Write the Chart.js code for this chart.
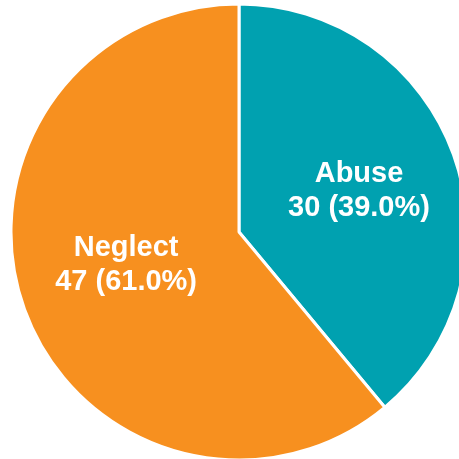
<!DOCTYPE html>
<html>
<head>
<meta charset="utf-8">
<script src="https://cdn.jsdelivr.net/npm/chart.js@4"></script>
<style>
html,body{margin:0;padding:0;background:#fff;overflow:hidden;width:459px;height:459px;}
canvas{display:block;}
</style>
</head>
<body>
<canvas id="c" width="478" height="464"></canvas>
<script>
const categories = ["Abuse", "Neglect"];
const counts = [30, 47];
const colors = ["#00A1B0", "#F7901F"];

const total = counts.reduce((a, b) => a + b, 0);

const labelPlugin = {
  id: 'sliceLabels',
  afterDatasetsDraw(chart, args, opts) {
    const ctx = chart.ctx;
    const meta = chart.getDatasetMeta(0);
    ctx.save();
    ctx.fillStyle = '#ffffff';
    ctx.font = 'bold 29px "Liberation Sans", Arial, sans-serif';
    ctx.textAlign = 'center';
    ctx.textBaseline = 'alphabetic';
    meta.data.forEach((arc, i) => {
      const p = arc.tooltipPosition();
      const off = opts.offsets[i] || [0, 0];
      const x = p.x + off[0];
      const y = p.y + off[1];
      const v = counts[i];
      const pct = (v / total * 100).toFixed(1);
      ctx.fillText(categories[i], x, y - 6.7);
      ctx.fillText(v + ' (' + pct + '%)', x, y + 26.7);
    });
    ctx.restore();
  }
};

new Chart(document.getElementById('c'), {
  type: 'pie',
  data: {
    labels: categories,
    datasets: [{
      data: counts,
      backgroundColor: colors,
      borderColor: '#ffffff',
      borderWidth: 3
    }]
  },
  options: {
    responsive: false,
    animation: false,
    radius: 228,
    layout: { padding: 0 },
    plugins: {
      legend: { display: false },
      tooltip: { enabled: false },
      sliceLabels: { offsets: [[12.8, -4.4], [-5.7, -7.8]] }
    }
  },
  plugins: [labelPlugin]
});
</script>
</body>
</html>
